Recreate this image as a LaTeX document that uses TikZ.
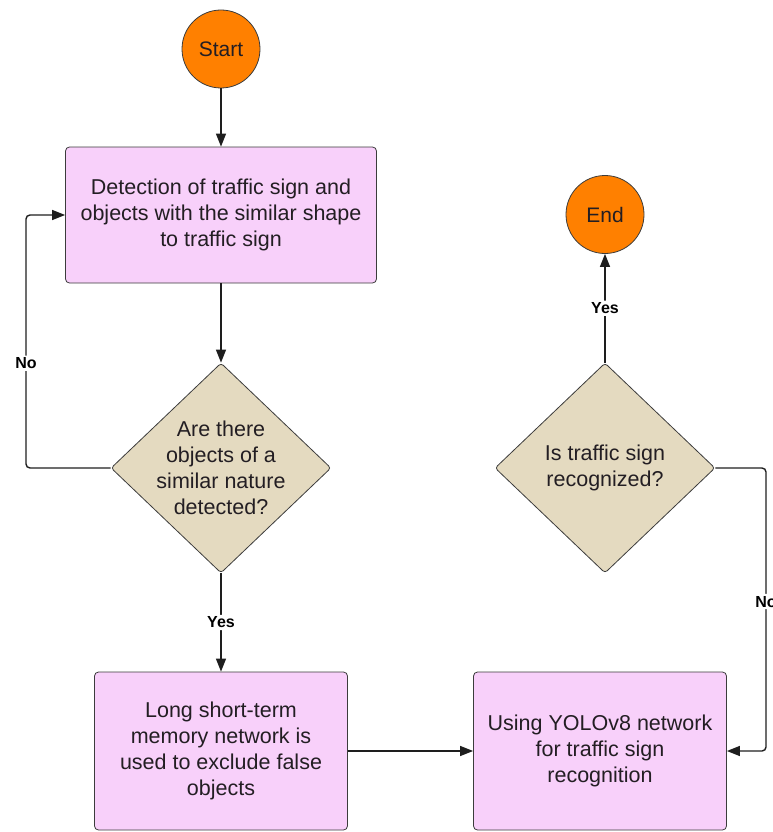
\documentclass[tikz,border=0pt]{standalone}
\usepackage{fontspec}
\setmainfont{Liberation Sans}
\usetikzlibrary{shapes.geometric,arrows.meta}
\definecolor{orng}{RGB}{255,128,0}
\definecolor{pinkbox}{RGB}{248,208,250}
\definecolor{tanfill}{RGB}{228,218,192}
\definecolor{edgecol}{RGB}{60,60,60}
\definecolor{txtcol}{RGB}{35,30,35}
\definecolor{linecol}{RGB}{30,30,30}
\begin{document}
\begin{tikzpicture}[x=1pt,y=-1pt,
  term/.style={circle,draw=edgecol,line width=0.8pt,fill=orng,minimum size=78pt,inner sep=0pt,font=\fontsize{21}{25}\selectfont,text=txtcol},
  proc/.style={rectangle,rounded corners=4pt,draw=edgecol,line width=0.8pt,fill=pinkbox,inner sep=0pt,align=center,font=\fontsize{21.5}{26}\selectfont,text=txtcol},
  dec/.style={diamond,rounded corners=3pt,draw=edgecol,line width=0.8pt,fill=tanfill,inner sep=0pt,minimum width=220pt,minimum height=210pt},
  dtext/.style={align=center,font=\fontsize{21.5}{26}\selectfont,text=txtcol,inner sep=0pt},
  flow/.style={draw=linecol,line width=1.4pt,rounded corners=4pt,-{Triangle[length=13pt,width=10pt]}},
  lbl/.style={fill=white,font=\bfseries\fontsize{16}{19}\selectfont,inner sep=2pt,text=black}
]
\useasboundingbox (0,0) rectangle (772,832);
\node[term] (start) at (221,49) {Start};
\node[proc,minimum width=311pt,minimum height=136pt] (b1) at (221,215) {Detection of traffic sign and\\objects with the similar shape\\to traffic sign};
\node[dec] (d1) at (221,468) {};
\node[dtext] (d1t) at (d1.center) {Are there\\objects of a\\similar nature\\detected?};
\node[proc,minimum width=253pt,minimum height=158pt] (b2) at (221,751) {Long short-term\\memory network is\\used to exclude false\\objects};
\node[proc,minimum width=253pt,minimum height=158pt] (b3) at (600,751) {Using YOLOv8 network\\for traffic sign\\recognition};
\node[dec] (d2) at (605,468) {};
\node[dtext] (d2t) at (d2.center) {Is traffic sign\\recognized?};
\node[term] (end) at (605,214.5) {End};
\coordinate (L) at (26,215);
\coordinate (R) at (766,751);
\draw[flow] (start) -- (b1);
\draw[flow] (b1) -- (d1);
\draw[flow] (d1) -- node[lbl]{Yes} (b2);
\draw[flow] (b2) -- (b3);
\draw[flow] (d2) -- node[lbl]{Yes} (end);
\draw[flow] (d1.west) -| node[lbl,pos=0.707]{No} (L) -- (b1.west);
\draw[flow] (d2.east) -| node[lbl,pos=0.736]{No} (R) -- (b3.east);
\end{tikzpicture}
\end{document}
